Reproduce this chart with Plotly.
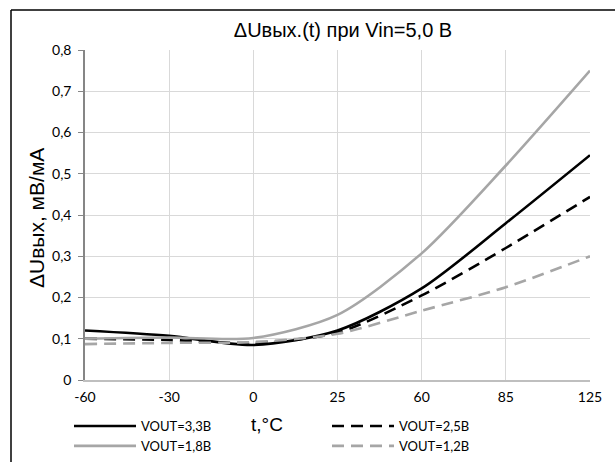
import plotly.graph_objects as go

categories = ["-60", "-30", "0", "25", "60", "85", "125"]
y_ticks = [0, 0.1, 0.2, 0.3, 0.4, 0.5, 0.6, 0.7, 0.8]
y_ticklabels = ["0", "0,1", "0,2", "0,3", "0,4", "0,5", "0,6", "0,7", "0,8"]

v33 = [0.120, 0.107, 0.085, 0.120, 0.222, 0.380, 0.545]
v25 = [0.100, 0.097, 0.090, 0.115, 0.205, 0.320, 0.444]
v18 = [0.100, 0.103, 0.102, 0.158, 0.307, 0.520, 0.750]
v12 = [0.087, 0.090, 0.092, 0.112, 0.168, 0.225, 0.300]

names = ["VOUT=3,3В", "VOUT=2,5В", "VOUT=1,8В", "VOUT=1,2В"]
series = [v33, v25, v18, v12]
colors = ["#000000", "#000000", "#A6A6A6", "#A6A6A6"]
dashes = ["solid", "12px,7px", "solid", "12px,7px"]

xi = list(range(len(categories)))

fig = go.Figure()
for name, vals, c, d in zip(names, series, colors, dashes):
    fig.add_trace(go.Scatter(
        x=xi, y=vals, name=name, mode="lines",
        line=dict(color=c, width=2.6, dash=d, shape="spline", smoothing=0.8),
    ))

W, H = 615, 462
L, R, T, B = 85, 25, 50, 82
PW, PH = W - L - R, H - T - B


def px(x):
    return (x - L) / PW


def py(y):
    return (H - B - y) / PH


fig.update_layout(
    width=W, height=H,
    margin=dict(l=L, r=R, t=T, b=B, autoexpand=False),
    paper_bgcolor="white", plot_bgcolor="white",
    title=dict(text="ΔUвых.(t) при Vin=5,0 В", x=343 / W, xanchor="center",
               y=1 - 30 / H, yanchor="middle",
               font=dict(family="Liberation Sans", size=20, color="#000000")),
    showlegend=True,
    legend=dict(orientation="h", x=px(69), xanchor="left",
                y=py(411), yanchor="top",
                entrywidth=181, entrywidthmode="pixels", itemwidth=62,
                tracegroupgap=0, traceorder="normal",
                font=dict(family="Lato", size=13, color="#000000"),
                bgcolor="rgba(0,0,0,0)"),
    xaxis=dict(range=[0, 6], tickvals=xi, ticktext=categories,
               showgrid=True, gridcolor="#D9D9D9", gridwidth=1,
               showline=True, linecolor="#BFBFBF", linewidth=1.5,
               ticks="", zeroline=False, ticklabelstandoff=3,
               tickfont=dict(family="Lato", size=14, color="#000000")),
    yaxis=dict(range=[0, 0.8], tickvals=y_ticks, ticktext=y_ticklabels,
               showgrid=True, gridcolor="#D9D9D9", gridwidth=1,
               showline=True, linecolor="#868686", linewidth=1.5,
               ticks="outside", ticklen=5, tickcolor="#868686",
               zeroline=False, ticklabelstandoff=4,
               tickfont=dict(family="Lato", size=14, color="#000000")),
    annotations=[
        dict(text="t,°C", xref="paper", yref="paper",
             x=px(267), y=py(424),
             xanchor="center", yanchor="middle", showarrow=False,
             font=dict(family="Liberation Sans", size=19, color="#000000")),
        dict(text="ΔUвых, мВ/мА", xref="paper", yref="paper",
             x=px(37), y=py(218), textangle=-90,
             xanchor="center", yanchor="middle", showarrow=False,
             font=dict(family="Liberation Sans", size=21, color="#000000")),
    ],
    shapes=[
        dict(type="line", xref="paper", yref="paper",
             x0=px(11), x1=px(W + 5), y0=py(10), y1=py(10),
             line=dict(color="#000000", width=1.5)),
        dict(type="line", xref="paper", yref="paper",
             x0=px(11), x1=px(11), y0=py(10), y1=py(H + 5),
             line=dict(color="#000000", width=1.5)),
    ],
)

fig.write_html("out.html")
